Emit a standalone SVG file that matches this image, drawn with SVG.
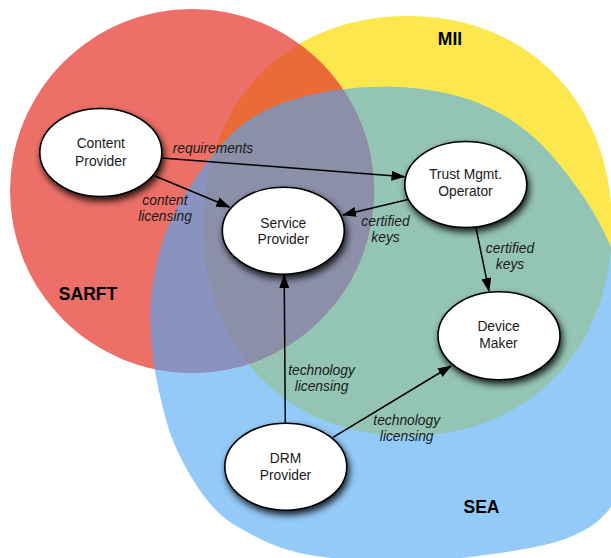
<svg xmlns="http://www.w3.org/2000/svg" xmlns:xlink="http://www.w3.org/1999/xlink" width="611" height="558" viewBox="0 0 611 558">
<style>
.node{fill:#fff;stroke:#000;stroke-width:1.6;filter:url(#sh)}
.nt{font-family:"Liberation Sans",Arial,sans-serif;font-size:13.8px;fill:#1a1a1a;text-anchor:middle}
.el{font-family:"Liberation Sans",Arial,sans-serif;font-size:13.8px;font-style:italic;fill:#1a1a1a;text-anchor:middle}
.rl{font-family:"Liberation Sans",Arial,sans-serif;font-size:17.5px;font-weight:bold;fill:#000;text-anchor:middle}
.edge{stroke:#000;stroke-width:1.5;fill:none;marker-end:url(#ah)}
</style>
<defs>
<path id="yel" d="M612,226 C612,349.9 528.2,436 407.5,436 C286.8,436 203,349.9 203,226 C203,102.1 286.8,16 407.5,16 C528.2,16 612,102.1 612,226 Z"/>
<path id="blu" d="M395,87 C420.83,88 447.33,92 470,100 C492.67,108 512.67,119.67 531,135 C549.33,150.33 566.67,173.33 580,192 C593.33,210.67 601.83,227.33 611,247 C620.17,266.67 629.33,287.83 635,310 C640.67,332.17 644.83,356.67 645,380 C645.17,403.33 641.67,428.83 636,450 C630.33,471.17 622,492.5 611,507 C600,521.5 588.5,529.33 570,537 C551.5,544.67 528.33,548.83 500,553 C471.67,557.17 433.33,562 400,562 C366.67,562 326.67,558.67 300,553 C273.33,547.33 255.5,536.83 240,528 C224.5,519.17 217.5,513 207,500 C196.5,487 184.67,466.67 177,450 C169.33,433.33 165.33,418.33 161,400 C156.67,381.67 152.33,359.5 151,340 C149.67,320.5 149.83,302.67 153,283 C156.17,263.33 160.67,242.5 170,222 C179.33,201.5 195.33,177.33 209,160 C222.67,142.67 234.33,129 252,118 C269.67,107 291.17,99.17 315,94 C338.83,88.83 369.17,86 395,87 Z"/>
<circle id="red" cx="192" cy="191" r="182"/>
<clipPath id="cY"><use xlink:href="#yel"/></clipPath>
<clipPath id="cR"><use xlink:href="#red"/></clipPath>
<filter id="sh" x="-30%" y="-30%" width="170%" height="180%">
<feGaussianBlur in="SourceAlpha" stdDeviation="3.5"/>
<feOffset dx="2" dy="4" result="b"/>
<feComponentTransfer in="b" result="s"><feFuncA type="linear" slope="0.85"/></feComponentTransfer>
<feMerge><feMergeNode in="s"/><feMergeNode in="SourceGraphic"/></feMerge>
</filter>
<marker id="ah" markerWidth="14" markerHeight="10" refX="13" refY="5" orient="auto" markerUnits="userSpaceOnUse"><path d="M0,0 L14,5 L0,10 Z" fill="#000"/></marker>
</defs>
<g id="regions">
<use xlink:href="#yel" fill="#FCE84C"/>
<use xlink:href="#blu" fill="#94CAF8"/>
<use xlink:href="#red" fill="#EC7067"/>
<use xlink:href="#blu" fill="#94C4B4" clip-path="url(#cY)"/>
<use xlink:href="#yel" fill="#EA6B38" clip-path="url(#cR)"/>
<use xlink:href="#blu" fill="#8A93C0" clip-path="url(#cR)"/>
<g clip-path="url(#cR)"><use xlink:href="#blu" fill="#8B8FA8" clip-path="url(#cY)"/></g>
<text class="rl" x="450" y="45">MII</text>
<text class="rl" x="88" y="299.5">SARFT</text>
<text class="rl" x="481.5" y="513">SEA</text>
</g>
<g id="connectors">
<line class="edge" x1="161.5" y1="158" x2="404.5" y2="176.7"/>
<line class="edge" x1="155" y1="176" x2="229.5" y2="207"/>
<line class="edge" x1="408" y1="199.5" x2="343" y2="215"/>
<line class="edge" x1="475.8" y1="227" x2="489" y2="291"/>
<line class="edge" x1="285.3" y1="423" x2="284.2" y2="275"/>
<line class="edge" x1="333" y1="437.3" x2="451" y2="366"/>
<text class="el" x="213" y="152.5">requirements</text>
<text class="el" x="165" y="205">content</text>
<text class="el" x="165" y="221">licensing</text>
<text class="el" x="385.5" y="226">certified</text>
<text class="el" x="385.5" y="242">keys</text>
<text class="el" x="510" y="253.3">certified</text>
<text class="el" x="510" y="269">keys</text>
<text class="el" x="321.5" y="374.7">technology</text>
<text class="el" x="321.5" y="391">licensing</text>
<text class="el" x="406.7" y="425">technology</text>
<text class="el" x="406.7" y="440.7">licensing</text>
</g>
<g id="node-content-provider">
<ellipse class="node" cx="100.8" cy="152.5" rx="61" ry="44"/>
<text class="nt" x="100.8" y="148">Content</text>
<text class="nt" x="100.8" y="165.5">Provider</text>
</g>
<g id="node-service-provider">
<ellipse class="node" cx="283.3" cy="230.7" rx="61" ry="43.5"/>
<text class="nt" x="283.3" y="227.5">Service</text>
<text class="nt" x="283.3" y="244">Provider</text>
</g>
<g id="node-trust-mgmt-operator">
<ellipse class="node" cx="465.8" cy="184.5" rx="61" ry="43"/>
<text class="nt" x="465.5" y="178.5">Trust Mgmt.</text>
<text class="nt" x="465.5" y="195.5">Operator</text>
</g>
<g id="node-device-maker">
<ellipse class="node" cx="499" cy="335.8" rx="61" ry="44"/>
<text class="nt" x="498.5" y="330.7">Device</text>
<text class="nt" x="498.5" y="348">Maker</text>
</g>
<g id="node-drm-provider">
<ellipse class="node" cx="285.8" cy="466.7" rx="61" ry="43.5"/>
<text class="nt" x="285.5" y="462.7">DRM</text>
<text class="nt" x="285.5" y="480">Provider</text>
</g>
</svg>
